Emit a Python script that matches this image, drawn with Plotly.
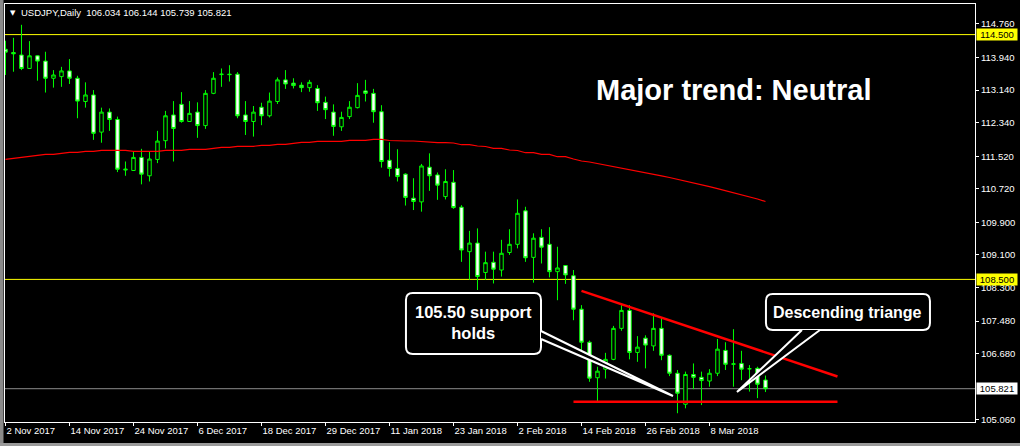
import plotly.graph_objects as go

# ---------------- data (USDJPY daily, 2 Nov 2017 .. 19 Mar 2018) ----------------
open_ = [114.14, 114.06, 114.00, 113.67, 113.98, 113.85, 113.43, 113.47, 113.61, 113.43,
         112.86, 113.02, 112.11, 112.60, 112.42, 111.18, 111.17, 111.49, 111.04, 111.44,
         111.90, 112.53, 112.79, 112.37, 112.60, 112.27, 113.06, 113.52, 113.53, 113.53,
         112.53, 112.37, 112.72, 112.51, 112.86, 113.39, 113.31, 113.26, 113.20, 113.18,
         112.84, 112.60, 112.24, 112.49, 112.71, 113.12, 113.06, 112.61, 111.42, 111.22,
         111.08, 110.49, 110.40, 111.25, 111.06, 110.53, 110.88, 110.27, 109.18, 109.39,
         108.67, 108.92, 108.73, 109.16, 109.36, 110.18, 109.04, 109.53, 109.36, 108.69,
         108.84, 108.59, 107.77, 106.96, 106.09, 106.30, 106.54, 107.30, 107.74, 106.71,
         107.06, 106.87, 107.30, 106.64, 106.20, 105.44, 106.17, 106.10, 106.01, 106.20,
         106.76, 106.42, 106.44, 106.31, 106.32, 106.034]
high = [114.35, 114.42, 114.74, 114.34, 114.00, 114.08, 113.63, 113.71, 113.90, 113.49,
        113.33, 113.14, 112.71, 112.69, 112.49, 111.39, 111.63, 111.70, 111.63, 112.14,
        112.63, 112.87, 113.09, 112.87, 112.84, 113.14, 113.58, 113.67, 113.75, 113.58,
        112.87, 112.75, 112.83, 113.08, 113.45, 113.63, 113.43, 113.33, 113.39, 113.26,
        112.98, 112.79, 112.61, 112.87, 113.31, 113.39, 113.17, 112.77, 111.86, 111.69,
        111.10, 110.98, 111.33, 111.59, 111.12, 111.20, 111.18, 110.32, 109.69, 109.75,
        109.18, 109.18, 109.47, 109.73, 110.46, 110.28, 109.63, 109.73, 109.78, 109.30,
        108.85, 108.73, 107.87, 107.00, 106.36, 106.70, 107.36, 107.87, 107.87, 107.11,
        107.13, 107.67, 107.56, 106.66, 106.28, 106.24, 106.44, 106.24, 106.30, 107.04,
        106.96, 107.28, 106.75, 106.40, 106.36, 106.144]
low = [113.51, 113.59, 113.63, 113.66, 113.37, 113.08, 113.20, 113.22, 113.29, 112.45,
       112.71, 111.92, 111.85, 112.14, 111.13, 111.04, 111.16, 110.83, 110.90, 111.35,
       111.71, 111.39, 112.34, 112.36, 111.97, 112.19, 113.04, 113.22, 113.35, 112.45,
       112.04, 112.00, 112.28, 112.47, 112.80, 113.17, 113.18, 113.09, 113.10, 112.63,
       112.43, 112.02, 112.14, 112.43, 112.69, 112.86, 112.34, 111.24, 111.02, 110.90,
       110.31, 110.20, 110.16, 110.67, 110.45, 110.46, 110.23, 108.93, 108.49, 108.24,
       108.49, 108.40, 108.57, 109.10, 109.26, 108.93, 108.42, 108.89, 108.55, 107.99,
       108.39, 107.50, 106.73, 105.99, 105.52, 106.07, 106.52, 107.24, 106.54, 106.48,
       106.32, 106.75, 106.52, 106.13, 105.22, 105.34, 105.81, 105.42, 105.87, 106.13,
       106.28, 105.87, 106.03, 105.75, 105.59, 105.739]
close = [114.07, 114.03, 113.67, 113.98, 113.85, 113.43, 113.51, 113.61, 113.43, 112.87,
         113.02, 112.08, 112.60, 112.42, 111.20, 111.20, 111.49, 111.08, 111.45, 111.89,
         112.51, 112.20, 112.37, 112.57, 112.27, 113.06, 113.43, 113.53, 113.52, 112.51,
         112.37, 112.60, 112.51, 112.87, 113.39, 113.29, 113.25, 113.20, 113.33, 112.83,
         112.66, 112.25, 112.47, 112.72, 113.01, 113.06, 112.61, 111.39, 111.22, 111.02,
         110.51, 110.41, 111.28, 111.04, 110.81, 110.90, 110.26, 109.22, 109.39, 108.57,
         108.91, 108.75, 109.14, 109.36, 110.12, 109.03, 109.51, 109.29, 108.69, 108.78,
         108.61, 107.77, 106.96, 106.08, 106.25, 106.54, 107.30, 107.74, 106.71, 106.84,
         106.89, 107.30, 106.64, 106.20, 105.71, 106.17, 106.10, 106.02, 106.20, 106.79,
         106.42, 106.43, 106.30, 106.31, 105.93, 105.821]
ma200 = [111.444, 111.468, 111.493, 111.517, 111.542, 111.566, 111.566, 111.591, 111.615, 111.615,
         111.640, 111.640, 111.664, 111.664, 111.664, 111.664, 111.640, 111.640, 111.640, 111.640,
         111.664, 111.664, 111.664, 111.689, 111.689, 111.689, 111.713, 111.738, 111.738, 111.762,
         111.762, 111.762, 111.787, 111.787, 111.811, 111.811, 111.836, 111.860, 111.860, 111.885,
         111.885, 111.885, 111.885, 111.909, 111.909, 111.909, 111.934, 111.934, 111.904, 111.892,
         111.892, 111.892, 111.880, 111.850, 111.850, 111.850, 111.843, 111.801, 111.801, 111.770,
         111.757, 111.713, 111.713, 111.671, 111.659, 111.605, 111.605, 111.566, 111.566, 111.507,
         111.507, 111.451, 111.402, 111.377, 111.341, 111.304, 111.267, 111.230, 111.194, 111.157,
         111.118, 111.078, 111.039, 110.997, 110.956, 110.912, 110.868, 110.821, 110.774, 110.725,
         110.676, 110.625, 110.573, 110.522, 110.471, 110.409]
bars = list(range(len(open_)))

date_tick_bars = [0, 8, 16, 24, 32, 40, 48, 56, 64, 72, 80, 88]
date_tick_labels = ["2 Nov 2017", "14 Nov 2017", "24 Nov 2017", "6 Dec 2017", "18 Dec 2017",
                    "29 Dec 2017", "11 Jan 2018", "23 Jan 2018", "2 Feb 2018", "14 Feb 2018",
                    "26 Feb 2018", "8 Mar 2018"]
price_ticks = [105.06, 106.68, 107.48, 108.30, 109.10, 109.90, 110.72, 111.52, 112.34,
               113.14, 113.94, 114.76]

level_lines = [114.5, 108.5]
bid = 105.821
support_level = 105.50
support_bars = [71, 104]
trend_bars = [72, 104]
trend_prices = [108.22, 106.12]

header = "USDJPY,Daily\u00a0 106.034 106.144 105.739 105.821"

# ---------------- geometry ----------------
X_RANGE = [-0.06, 121.19]
Y_RANGE = [105.005, 115.25]
FONT = "Liberation Sans, Arial, sans-serif"
GREEN = "#00ff00"

fig = go.Figure()
fig.add_trace(go.Candlestick(
    x=bars, open=open_, high=high, low=low, close=close,
    increasing=dict(line=dict(color=GREEN, width=1), fillcolor="#000000"),
    decreasing=dict(line=dict(color=GREEN, width=1), fillcolor="#ffffff"),
    whiskerwidth=0, showlegend=False, hoverinfo="skip"))
fig.add_trace(go.Scatter(x=bars, y=ma200, mode="lines",
                         line=dict(color="#ff0000", width=1.2),
                         showlegend=False, hoverinfo="skip"))
fig.add_trace(go.Scatter(x=trend_bars, y=trend_prices, mode="lines",
                         line=dict(color="#ff0000", width=2.5),
                         showlegend=False, hoverinfo="skip"))
fig.add_trace(go.Scatter(x=support_bars, y=[support_level, support_level], mode="lines",
                         line=dict(color="#ff0000", width=2.5),
                         showlegend=False, hoverinfo="skip"))

shapes = []
for lv in level_lines:
    shapes.append(dict(type="line", xref="paper", x0=0, x1=1, yref="y", y0=lv, y1=lv,
                       line=dict(color="#ffff00", width=1), layer="below"))
shapes.append(dict(type="line", xref="paper", x0=0, x1=1, yref="y", y0=bid, y1=bid,
                   line=dict(color="#8c8c8c", width=1), layer="below"))


def rrect(x0, x1, y0, y1, rx, ry):
    return (f"M {x0+rx},{y1} L {x1-rx},{y1} Q {x1},{y1} {x1},{y1-ry} "
            f"L {x1},{y0+ry} Q {x1},{y0} {x1-rx},{y0} L {x0+rx},{y0} "
            f"Q {x0},{y0} {x0},{y0+ry} L {x0},{y1-ry} Q {x0},{y1} {x0+rx},{y1} Z")


RX, RY = 0.85, 0.17
callouts = [
    # box (x0, x1, y0, y1), tail (a, tip, b)
    ((50.06, 66.94, 106.671, 108.167), ((66.94, 107.235), (83.44, 105.642), (66.94, 107.039))),
    ((95.06, 115.56, 107.26, 108.142), ((99.56, 107.26), (91.44, 105.74), (101.81, 107.26))),
]
for (bx0, bx1, by0, by1), (a, tip, b) in callouts:
    shapes.append(dict(type="path", xref="x", yref="y", path=rrect(bx0, bx1, by0, by1, RX, RY),
                       line=dict(color="#ffffff", width=2), fillcolor="#000000", layer="above"))
    shapes.append(dict(type="path", xref="x", yref="y",
                       path=f"M {a[0]},{a[1]} L {tip[0]},{tip[1]} L {b[0]},{b[1]}",
                       line=dict(color="#ffffff", width=2), fillcolor="#000000", layer="above"))

# window borders (grey strips left and bottom)
shapes.append(dict(type="rect", xref="paper", yref="paper", x0=-5/970, x1=-1.5/970,
                   y0=-24/418, y1=422/418, fillcolor="#8a8a8a", line=dict(width=0), layer="above"))
shapes.append(dict(type="rect", xref="paper", yref="paper", x0=-5/970, x1=1045/970,
                   y0=-24/418, y1=-21/418, fillcolor="#9a9a9a", line=dict(width=0), layer="above"))

annotations = []
annotations.append(dict(xref="paper", yref="paper", x=3/970, y=(422-13)/418, xanchor="left",
                        yanchor="middle", text="\u25bc", showarrow=False,
                        font=dict(family="DejaVu Sans", size=7, color="#ffffff")))
annotations.append(dict(xref="paper", yref="paper", x=14/970, y=(422-13)/418, xanchor="left",
                        yanchor="middle", text=header, showarrow=False,
                        font=dict(family=FONT, size=9.5, color="#ffffff")))
annotations.append(dict(xref="x", yref="y", x=91.06, y=113.142, text="<b>Major trend: Neutral</b>",
                        showarrow=False, xanchor="center", yanchor="middle",
                        font=dict(family=FONT, size=29, color="#ffffff")))
annotations.append(dict(xref="x", yref="y", x=58.5, y=107.44, text="<b>105.50 support<br>holds</b>",
                        showarrow=False, xanchor="center", yanchor="middle", align="center",
                        font=dict(family=FONT, size=16.5, color="#ffffff")))
annotations.append(dict(xref="x", yref="y", x=105.3, y=107.70, text="<b>Descending triange</b>",
                        showarrow=False, xanchor="center", yanchor="middle",
                        font=dict(family=FONT, size=16, color="#ffffff")))
for lv, bg in [(114.5, "#ffff00"), (108.5, "#ffff00"), (bid, "#ffffff")]:
    annotations.append(dict(xref="paper", yref="y", x=1, y=lv, xanchor="left", yanchor="middle",
                            xshift=1, text=f"{lv:.3f}", showarrow=False, bgcolor=bg,
                            borderpad=0, width=40, height=11, align="center",
                            font=dict(family=FONT, size=9.5, color="#000000")))

fig.update_layout(
    width=1020, height=446,
    margin=dict(l=5, r=45, t=4, b=24, pad=0),
    paper_bgcolor="#000000", plot_bgcolor="#000000",
    boxgap=0.38,
    showlegend=False,
    shapes=shapes, annotations=annotations,
    xaxis=dict(range=X_RANGE, rangeslider=dict(visible=False), showgrid=False, zeroline=False,
               tickvals=date_tick_bars, ticktext=date_tick_labels, ticks="outside", ticklen=3,
               tickcolor="#ffffff", ticklabelposition="outside right",
               tickfont=dict(family=FONT, size=9.5, color="#ffffff"),
               showline=True, linecolor="#ffffff", linewidth=1, mirror=True),
    yaxis=dict(range=Y_RANGE, side="right", showgrid=False, zeroline=False,
               tickvals=price_ticks, ticktext=[f"{p:.3f}" for p in price_ticks],
               ticks="outside", ticklen=3, tickcolor="#ffffff",
               tickfont=dict(family=FONT, size=9.5, color="#ffffff"),
               showline=True, linecolor="#ffffff", linewidth=1, mirror=True),
)

fig.write_html("out.html", config={"displayModeBar": False},
               post_script="document.body.style.margin='0';document.body.style.background='#000';")
